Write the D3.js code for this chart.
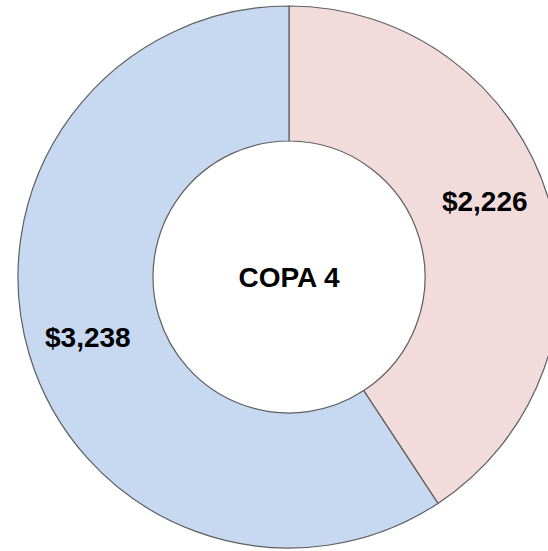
<!DOCTYPE html>
<html>
<head>
<meta charset="utf-8">
<script src="https://cdn.jsdelivr.net/npm/d3@7"></script>
<style>
  body { margin: 0; background: #fff; }
  svg { display: block; }
</style>
</head>
<body>
<svg id="donut"></svg>
<script>
// data
var categories = ["A", "B"];
var values = [2226, 3238];
var labels = ["$2,226", "$3,238"];
var colors = ["#f2dcdb", "#c6d9f0"];
var title = "COPA 4";

var width = 548, height = 551;
var cx = 289, cy = 277;
var outerR = 271, innerR = 136;
var labelR = 210;

var svg = d3.select("#donut")
    .attr("width", width)
    .attr("height", height);

var g = svg.append("g")
    .attr("transform", "translate(" + cx + "," + cy + ")");

var pie = d3.pie()
    .sort(null)
    .value(function(d) { return d; });

var arc = d3.arc()
    .innerRadius(innerR)
    .outerRadius(outerR);

var arcs = pie(values);

g.selectAll("path")
    .data(arcs)
  .enter().append("path")
    .attr("d", arc)
    .attr("fill", function(d, i) { return colors[i]; })
    .attr("stroke", "#5f5f5f")
    .attr("stroke-width", 1.2);

// label sits on the ring middle; the one near the right edge is pulled up a bit so it fits
function labelPos(d) {
    var a = (d.startAngle + d.endAngle) / 2;
    var x = Math.sin(a) * labelR;
    if (cx + x + 45 > width - 14) a -= 0.08;
    return [Math.sin(a) * labelR, -Math.cos(a) * labelR];
}

g.selectAll("text.val")
    .data(arcs)
  .enter().append("text")
    .attr("class", "val")
    .attr("transform", function(d) { return "translate(" + labelPos(d) + ")"; })
    .attr("text-anchor", "middle")
    .attr("dy", "0.35em")
    .style("font-family", "Liberation Sans, Arial, sans-serif")
    .style("font-weight", "bold")
    .style("font-size", "28px")
    .text(function(d, i) { return labels[i]; });

g.append("text")
    .attr("text-anchor", "middle")
    .attr("dy", "0.35em")
    .style("font-family", "Liberation Sans, Arial, sans-serif")
    .style("font-weight", "bold")
    .style("font-size", "28px")
    .text(title);
</script>
</body>
</html>
